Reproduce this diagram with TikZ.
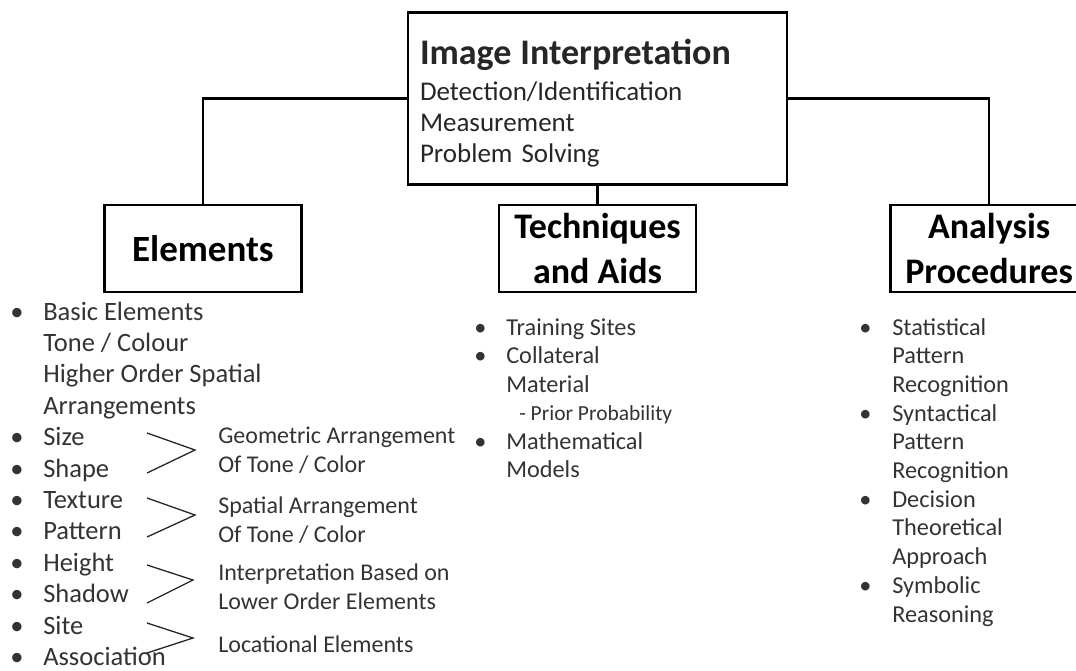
\documentclass[tikz,border=0pt]{standalone}
\usepackage{fontspec}
\setmainfont{Carlito}
\usepackage{tikz}
\usetikzlibrary{positioning}

\tikzset{
	box/.style={draw, line width=2.6pt, minimum width=197pt, minimum height=87pt, inner sep=0pt, align=center, font=\fontsize{36}{45}\selectfont\bfseries},
	list/.style={anchor=base west, inner sep=0pt, text=black!80},
	chev/.style={line width=1.3pt, black!85, line join=miter},
}

\begin{document}
\begin{tikzpicture}[-, x=1pt, y=-1pt, line width=2.6pt, line join=miter]
	\useasboundingbox (0,0) rectangle (1076,671);
	\clip (0,0) rectangle (1076,671);

	% top box
	\node [draw, text width=355pt, minimum height=172pt, inner sep=12pt, align=left, text=black!85, font=\fontsize{27}{31}\selectfont] (interp) at (597.5,98.5)
		{\rule{0pt}{34pt}{\fontsize{36}{40}\selectfont\bfseries Image Interpretation}\\[5pt]
		Detection/Identification\\
		Measurement\\
		Problem Solving};

	% second level
	\node [box] (tech) [below=18pt of interp] {Techniques\\and Aids};
	\node [box, font=\fontsize{37}{45}\selectfont\bfseries] (elem) [left=195pt of tech] {Elements};
	\node [box] (anal) [right=192pt of tech] {Analysis\\Procedures};

	\draw (interp.west) -| (elem.north);
	\draw (interp.east) -| (anal.north);
	\draw (interp.south) -- (tech.north);

	% elements list
	\node [list, font=\fontsize{26.5}{31.4}\selectfont] (elemlist) at (9,320)
		{\begin{tabular}[t]{@{}p{33pt}@{}l@{}}
		\textbullet & Basic Elements\\
		 & Tone / Colour\\
		 & Higher Order Spatial\\
		 & Arrangements\\
		\textbullet & Size\\
		\textbullet & Shape\\
		\textbullet & Texture\\
		\textbullet & Pattern\\
		\textbullet & Height\\
		\textbullet & Shadow\\
		\textbullet & Site\\
		\textbullet & Association
		\end{tabular}};

	\node [list, font=\fontsize{24}{29}\selectfont, align=left] (geom) at (217,472) {Geometric Arrangement\\Of Tone / Color};
	\node [list, font=\fontsize{24}{29}\selectfont, align=left] (spat) at (217,542) {Spatial Arrangement\\Of Tone / Color};
	\node [list, font=\fontsize{24}{29}\selectfont, align=left] (lower) at (217,609) {Interpretation Based on\\Lower Order Elements};
	\node [list, font=\fontsize{24}{29}\selectfont] (locat) at (217,652) {Locational Elements};

	\draw [chev] (147,433) -- (195,450) -- (147,473);
	\draw [chev] (147,498) -- (195,515) -- (147,537);
	\draw [chev] (147,565) -- (193,580) -- (147,603);
	\draw [chev] (147,623) -- (193,638) -- (147,653);

	% techniques list
	\node [list, font=\fontsize{24.3}{28.5}\selectfont] (techlist) at (473,335)
		{\begin{tabular}[t]{@{}p{32pt}@{}l@{}}
		\textbullet & Training Sites\\
		\textbullet & Collateral\\
		 & Material\\
		 & \hspace{13pt}{\fontsize{21.5}{24}\selectfont - Prior Probability}\\
		\textbullet & Mathematical\\
		 & Models
		\end{tabular}};

	% analysis list
	\node [list, font=\fontsize{24.3}{28.7}\selectfont] (anallist) at (858,335)
		{\begin{tabular}[t]{@{}p{33pt}@{}l@{}}
		\textbullet & Statistical\\
		 & Pattern\\
		 & Recognition\\
		\textbullet & Syntactical\\
		 & Pattern\\
		 & Recognition\\
		\textbullet & Decision\\
		 & Theoretical\\
		 & Approach\\
		\textbullet & Symbolic\\
		 & Reasoning
		\end{tabular}};
\end{tikzpicture}
\end{document}
